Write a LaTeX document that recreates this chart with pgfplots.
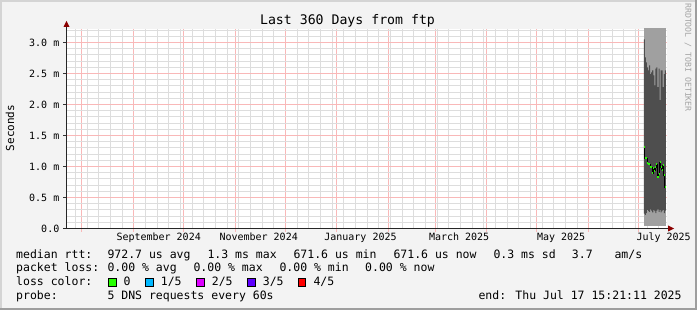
\documentclass[border=0pt]{standalone}
\usepackage{fontspec}
\setmainfont{DejaVu Sans Mono}
\usepackage{pgfplots}
\pgfplotsset{compat=1.18}
\usepackage{pgfplotstable}

\definecolor{bg}{HTML}{F3F3F3}
\definecolor{borderlight}{HTML}{D4D4D4}
\definecolor{borderdark}{HTML}{9E9E9E}
\definecolor{smokelight}{HTML}{A0A0A0}
\definecolor{smokedark}{HTML}{4E4E4E}
\definecolor{medgreen}{HTML}{26FF00}
\definecolor{loss1}{HTML}{00B8FF}
\definecolor{loss2}{HTML}{DD00FF}
\definecolor{loss3}{HTML}{5E00FF}
\definecolor{loss4}{HTML}{FF0000}
\definecolor{mgridc}{HTML}{F9B8B8}
\definecolor{gridc}{HTML}{DDDDDD}
\definecolor{arrowred}{HTML}{8B0000}
\definecolor{wm}{HTML}{A4A4A4}

% median round-trip time (ms), one column per pixel
\pgfplotstableread{
x med
346.38 1.31
347.01 1.13
347.64 1.13
348.27 1.05
348.90 1.04
349.53 1.04
350.16 0.99
350.79 0.99
351.42 0.89
352.05 0.97
352.68 0.93
353.31 0.99
353.94 1.04
354.57 0.83
355.20 0.88
355.83 1.07
356.46 0.99
357.09 0.95
357.72 1.02
358.35 0.86
358.98 0.67
359.61 0.67
}\median

\begin{document}
\begin{tikzpicture}
\begin{scope}[x=1pt,y=-1pt]
\path[use as bounding box] (0,0) rectangle (697,310);
\fill[bg] (0,0) rectangle (697,310);
\fill[borderlight] (0,0) rectangle (697,2);
\fill[borderlight] (0,0) rectangle (2,310);
\fill[borderdark] (0,308) rectangle (697,310);
\fill[borderdark] (695,0) rectangle (697,310);
\end{scope}

\begin{axis}[
  at={(66.5pt,-228.5pt)}, anchor=south west,
  scale only axis, width=600pt, height=200pt,
  xmin=0, xmax=360, ymin=0, ymax=3.2258,
  axis background/.style={fill=white},
  axis line style={draw=none},
  tick pos=left, tick align=outside,
  major tick length=3pt, minor tick length=0pt,
  xtick={9.0,40.2,70.2,101.4,131.4,162.0,193.2,221.4,252.0,282.0,313.2,343.2},
  xticklabels={,,,,,,,,,,,},
  minor xtick={5.4,12.6,19.2,26.4,33.6,47.4,54.6,61.2,68.4,75.6,82.2,89.4,96.6,103.2,110.4,117.6,124.2,138.6,145.2,152.4,159.6,166.2,173.4,180.6,187.2,194.4,201.6,208.2,215.4,222.6,229.2,236.4,243.6,250.2,257.4,264.6,271.2,278.4,285.6,292.2,299.4,306.6,320.4,327.6,334.2,341.4,348.6,355.2},
  extra x ticks={55.3,115.3,176.4,235.6,296.8,358.3},
  extra x tick labels={September 2024,November 2024,January 2025,March 2025,May 2025,July 2025},
  extra x tick style={xmajorgrids=false, major tick length=0pt},
  ytick={0,0.5,1,1.5,2,2.5,3},
  yticklabels={0.0,0.5 m,1.0 m,1.5 m,2.0 m,2.5 m,3.0 m},
  minor ytick={0.1,0.2,0.3,0.4,0.6,0.7,0.8,0.9,1.1,1.2,1.3,1.4,1.6,1.7,1.8,1.9,2.1,2.2,2.3,2.4,2.6,2.7,2.8,2.9,3.1,3.2},
  xmajorgrids=true, ymajorgrids=true, xminorgrids=true, yminorgrids=true,
  every major grid/.style={draw=mgridc, line width=1pt},
  every minor grid/.style={draw=gridc, line width=1pt},
  xtick style={draw=mgridc, line width=0.8pt},
  ytick style={draw=black!80, line width=0.8pt},
  ticklabel style={font=\fontsize{10}{12}\selectfont, inner sep=0pt},
  yticklabel style={xshift=-4pt},
  xticklabel style={yshift=-4pt},
]
% light smoke band
\addplot[fill=smokelight, draw=none] coordinates {(346.2,0.04) (346.2,3.4) (359.61,3.4) (359.61,0.04)} -- cycle;
% dark smoke band: upper edge (forward) then lower edge (back)
\addplot[fill=smokedark, draw=none] coordinates {
(346.38,3.05)(347.01,3.05)(347.01,2.76)(347.64,2.76)(347.64,2.68)(348.27,2.68)
(348.27,2.60)(348.90,2.60)(348.90,2.55)(349.53,2.55)(349.53,2.63)(350.16,2.63)
(350.16,2.49)(350.79,2.49)(350.79,2.52)(351.42,2.52)(351.42,2.55)(352.05,2.55)
(352.05,2.47)(352.68,2.47)(352.68,2.31)(353.31,2.31)(353.31,2.58)(353.94,2.58)
(353.94,2.60)(354.57,2.60)(354.57,2.28)(355.20,2.28)(355.20,2.58)(355.83,2.58)
(355.83,2.07)(356.46,2.07)(356.46,2.55)(357.09,2.55)(357.09,2.55)(357.72,2.55)
(357.72,2.28)(358.35,2.28)(358.35,2.49)(358.98,2.49)(358.98,2.55)(359.61,2.55)
(359.61,0.29)(358.98,0.29)(358.98,0.25)(358.35,0.25)(358.35,0.30)(357.72,0.30)
(357.72,0.28)(357.09,0.28)(357.09,0.26)(356.46,0.26)(356.46,0.30)(355.83,0.30)
(355.83,0.27)(355.20,0.27)(355.20,0.31)(354.57,0.31)(354.57,0.29)(353.94,0.29)
(353.94,0.25)(353.31,0.25)(353.31,0.28)(352.68,0.28)(352.68,0.30)(352.05,0.30)
(352.05,0.26)(351.42,0.26)(351.42,0.29)(350.79,0.29)(350.79,0.31)(350.16,0.31)
(350.16,0.27)(349.53,0.27)(349.53,0.28)(348.90,0.28)(348.90,0.30)(348.27,0.30)
(348.27,0.25)(347.64,0.25)(347.64,0.22)(347.01,0.22)(347.01,0.24)(346.38,0.24)
} -- cycle;
\addplot[black, line width=0.8pt, const plot] table[x=x, y=med] {\median};
\addplot[medgreen, line width=2pt, jump mark left] table[x=x, y=med] {\median};
\end{axis}

\begin{scope}[x=1pt,y=-1pt]
\draw[black!85, line width=1pt] (66.5,229) -- (66.5,25);
\fill[arrowred] (63.5,27) -- (69.5,27) -- (66.5,21) -- cycle;
\draw[black!85, line width=1pt] (63,228.5) -- (669,228.5);
\fill[arrowred] (668,225.5) -- (668,231.5) -- (674,228.5) -- cycle;

\node[anchor=base, inner sep=0pt, font=\fontsize{13.2}{15}\selectfont] at (347.5,24.5) {Last 360 Days from ftp};
\node[rotate=90, anchor=center, inner sep=0pt, font=\fontsize{11}{13}\selectfont] at (10,128) {Seconds};
\node[rotate=-90, anchor=center, inner sep=0pt, text=wm, font=\fontsize{8.2}{9}\selectfont] at (688,57.5) {RRDTOOL / TOBI OETIKER};

\begin{scope}[every node/.style={anchor=base west, inner sep=0pt, font=\fontsize{11.5}{13}\selectfont}]
\node at (16,258.3) {median rtt:};
\node at (107.3,258.3) {972.7 us avg};
\node at (207.3,258.3) {1.3 ms max};
\node at (293.3,258.3) {671.6 us min};
\node at (393.3,258.3) {671.6 us now};
\node at (493.3,258.3) {0.3 ms sd};
\node at (571.7,258.3) {3.7};
\node at (614.3,258.3) {am/s};

\node at (16,272) {packet loss:};
\node at (107.3,272) {0.00 \% avg};
\node at (193.3,272) {0.00 \% max};
\node at (279.3,272) {0.00 \% min};
\node at (365,272) {0.00 \% now};

\node at (16,285.7) {loss color:};
\node at (123.3,285.7) {0};
\node at (160.7,285.7) {1/5};
\node at (211.7,285.7) {2/5};
\node at (262.7,285.7) {3/5};
\node at (313.3,285.7) {4/5};

\node at (16,299.4) {probe:};
\node at (107.3,299.4) {5 DNS requests every 60s};
\node at (478.3,299.4) {end: Thu Jul 17 15:21:11 2025};
\end{scope}
\filldraw[fill=medgreen, draw=black, line width=0.8pt] (108.7,278) rectangle (116.2,286);
\filldraw[fill=loss1, draw=black, line width=0.8pt] (145.7,278) rectangle (153.2,286);
\filldraw[fill=loss2, draw=black, line width=0.8pt] (196.7,278) rectangle (204.2,286);
\filldraw[fill=loss3, draw=black, line width=0.8pt] (247.7,278) rectangle (255.2,286);
\filldraw[fill=loss4, draw=black, line width=0.8pt] (298.3,278) rectangle (305.8,286);
\end{scope}
\end{tikzpicture}
\end{document}
